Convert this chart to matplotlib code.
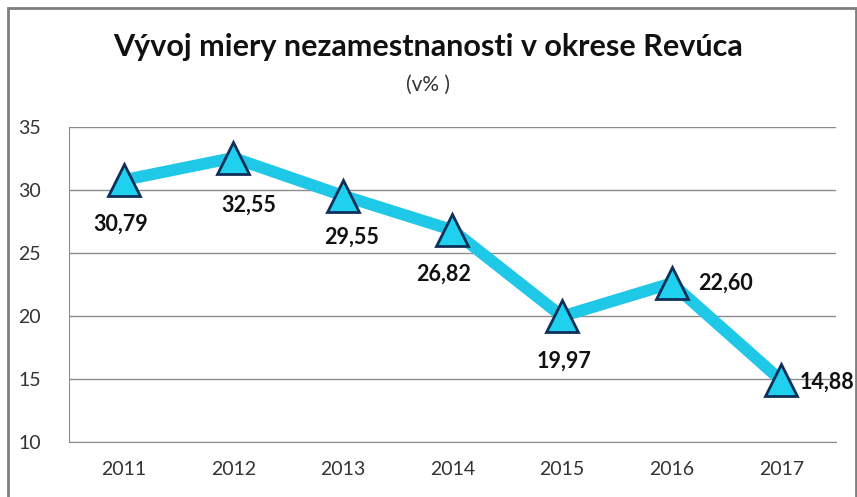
import matplotlib.pyplot as plt
from matplotlib.patches import Rectangle

years = ['2011', '2012', '2013', '2014', '2015', '2016', '2017']
rates = [30.79, 32.55, 29.55, 26.82, 19.97, 22.60, 14.88]
labels = ['30,79', '32,55', '29,55', '26,82', '19,97', '22,60', '14,88']
# label offsets in points (dx, dy)
offsets = [(-2, -32), (11, -34), (6.5, -30), (-6.5, -32), (1.5, -32), (39, 0), (33, -1)]

plt.rcParams['font.family'] = ['Lato', 'DejaVu Sans']

fig = plt.figure(figsize=(8.57, 4.97), dpi=100)
ax = fig.add_axes([0.0805, 0.1107, 0.895, 0.6338])

x = list(range(len(years)))
ax.plot(x, rates, color='#1ec8e6', lw=8.5, solid_capstyle='round', zorder=3)
ax.plot(x, rates, ls='none', marker='^', markersize=23.5, markerfacecolor='#1fd0ef',
        markeredgecolor='#10305a', markeredgewidth=2, zorder=4)

for i, (v, lab) in enumerate(zip(rates, labels)):
    dx, dy = offsets[i]
    ax.annotate(lab, (i, v), xytext=(dx, dy), textcoords='offset points',
                ha='center', va='center', fontsize=15.5, fontweight='bold', color='#111111')

ax.set_xlim(-0.5, len(years) - 0.5)
ax.set_ylim(10, 35)
ax.set_yticks([10, 15, 20, 25, 30, 35])
ax.set_xticks(x)
ax.set_xticklabels(years)
ax.yaxis.grid(True, color='#8c8c8c', lw=1)
ax.set_axisbelow(True)
ax.tick_params(length=0, labelsize=14, colors='#333333', pad=14)
ax.tick_params(axis='y', pad=20)
for s in ['top', 'right']:
    ax.spines[s].set_visible(False)
for s in ['left', 'bottom']:
    ax.spines[s].set_color('#8c8c8c')

fig.text(0.5, 0.905, 'Vývoj miery nezamestnanosti v okrese Revúca', ha='center', va='center',
         fontsize=22, fontweight='bold', color='#111111')
fig.text(0.5, 0.83, '(v% )', ha='center', va='center', fontsize=15, color='#333333')

fig.patches.append(Rectangle((8 / 857, -0.1), 848 / 857, 1.1 - 8 / 497, transform=fig.transFigure,
                             fill=False, edgecolor='#7f7f7f', lw=2))

fig.savefig('out.png', dpi=100)
